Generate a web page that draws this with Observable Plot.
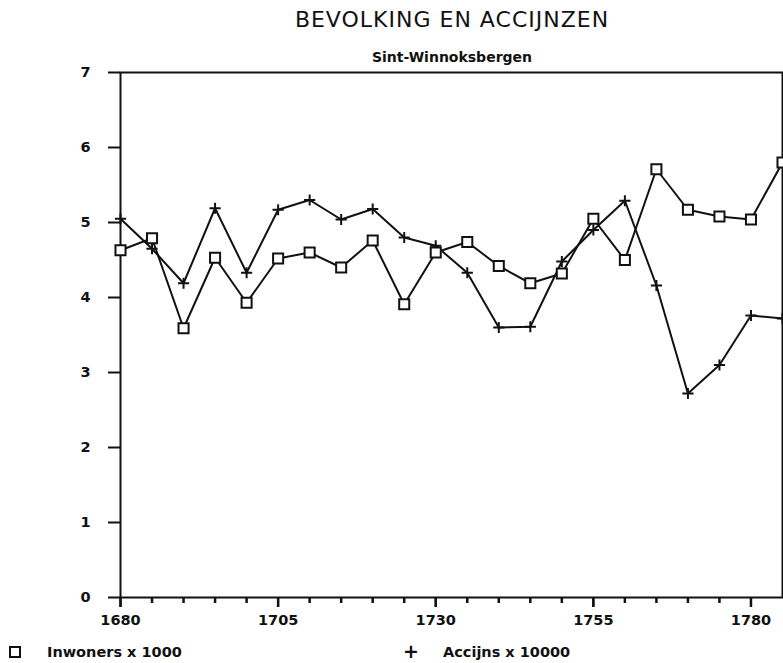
<!DOCTYPE html>
<html>
<head>
<meta charset="utf-8">
<script src="https://cdn.jsdelivr.net/npm/d3@7"></script>
<script src="https://cdn.jsdelivr.net/npm/@observablehq/plot@0.6"></script>
<style>
  body { margin: 0; background: #fff; }
  #wrap { width: 783px; height: 663px; font-family: "DejaVu Sans", sans-serif; color: #111; overflow: hidden; }
  #header { position: relative; height: 64px; }
  #title { position: absolute; left: 0; top: 0; width: 783px; box-sizing: border-box; padding-left: 121px; text-align: center; font-size: 22px; line-height: 40px; letter-spacing: 1px; font-weight: normal; }
  #subtitle { position: absolute; left: 0; top: 49px; width: 783px; box-sizing: border-box; padding-left: 121px; text-align: center; font-size: 14px; line-height: 16px; font-weight: bold; }
  #chart svg { display: block; }
  #legend { height: 26px; font-size: 14.5px; font-weight: bold; position: relative; }
  .item { position: absolute; top: 8px; line-height: 14px; white-space: nowrap; }
  .sq { position: absolute; top: 9px; left: 9px; width: 8px; height: 8px; border: 2px solid #111; }
  .plus { position: absolute; top: 5px; left: 403px; font-size: 19px; line-height: 19px; font-weight: bold; }
</style>
</head>
<body>
<div id="wrap">
  <div id="header">
    <div id="title">BEVOLKING EN ACCIJNZEN</div>
    <div id="subtitle">Sint-Winnoksbergen</div>
  </div>
  <div id="chart"></div>
  <div id="legend">
    <span class="sq"></span>
    <span class="item" style="left:47px">Inwoners x 1000</span>
    <span class="plus">+</span>
    <span class="item" style="left:443px">Accijns x 10000</span>
  </div>
</div>
<script>
const years = [1680,1685,1690,1695,1700,1705,1710,1715,1720,1725,1730,1735,1740,1745,1750,1755,1760,1765,1770,1775,1780,1785];
const inwoners = [4.63,4.79,3.59,4.53,3.93,4.52,4.60,4.40,4.76,3.91,4.60,4.74,4.42,4.19,4.32,5.05,4.50,5.71,5.17,5.08,5.04,5.80];
const accijns  = [5.05,4.65,4.19,5.19,4.33,5.17,5.30,5.04,5.18,4.80,4.69,4.33,3.60,3.61,4.48,4.90,5.29,4.16,2.72,3.10,3.76,3.72];
const majorTicks = [1680,1705,1730,1755,1780];
const minorTicks = [1685,1690,1695,1700,1710,1715,1720,1725,1735,1740,1745,1750,1760,1765,1770,1775];
const yTicks = [0,1,2,3,4,5,6,7];

const inwData = years.map((year, i) => ({year, v: inwoners[i]}));
const accData = years.map((year, i) => ({year, v: accijns[i]}));

const ink = "#111";
const font = "DejaVu Sans, sans-serif";
const W = 783, H = 573, mT = 8, mB = 40, mL = 120, mR = 1;
const innerH = H - mT - mB;
const yMax = 7;
// tick lengths in pixels, converted to y units so they hang below the x axis
const pxToY = px => -px * yMax / innerH;
const chart = Plot.plot({
  width: W,
  height: H,
  marginTop: mT,
  marginLeft: mL,
  marginRight: mR,
  marginBottom: mB,
  x: {domain: [1680, 1785], label: null},
  y: {domain: [0, yMax], label: null},
  style: {fontFamily: font, fontSize: "14px", fontWeight: "bold", color: ink, background: "white", overflow: "visible"},
  marks: [
    Plot.axisY({ticks: yTicks, tickSize: 12, tickPadding: 18, tickFormat: d => String(d), stroke: ink, fill: ink, strokeWidth: 2, fontSize: 14.5, fontWeight: "bold", fontFamily: font, label: null}),
    Plot.axisX({anchor: "bottom", ticks: majorTicks, tickSize: 10, tickPadding: 7, tickFormat: d => String(d), stroke: ink, fill: ink, strokeWidth: 2, fontSize: 14.5, fontWeight: "bold", fontFamily: font, label: null}),
    Plot.frame({stroke: ink, strokeWidth: 2}),
    Plot.line(accData, {x: "year", y: "v", stroke: ink, strokeWidth: 2}),
    Plot.line(inwData, {x: "year", y: "v", stroke: ink, strokeWidth: 2}),
    Plot.dot(accData, {x: "year", y: "v", symbol: "plus", r: 3.7, stroke: ink, strokeWidth: 2}),
    Plot.dot(inwData, {x: "year", y: "v", symbol: "square2", r: 6.4, stroke: ink, fill: "white", strokeWidth: 2}),
    Plot.ruleX(minorTicks, {x: d => d, y1: 0, y2: pxToY(6), stroke: ink, strokeWidth: 2.5, clip: false}),
    Plot.ruleX(majorTicks, {x: d => d, y1: 0, y2: pxToY(10), stroke: ink, strokeWidth: 2.5, clip: false})
  ]
});
document.getElementById("chart").appendChild(chart);
</script>
</body>
</html>
